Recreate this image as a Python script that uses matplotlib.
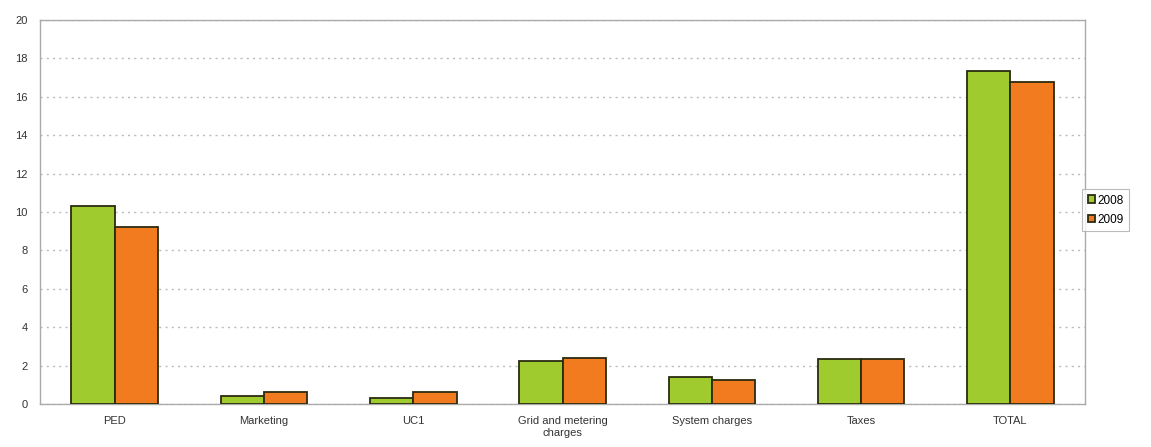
import matplotlib
matplotlib.use("Agg")
import matplotlib.pyplot as plt
import numpy as np

categories = ["PED", "Marketing", "UC1", "Grid and metering\ncharges",
              "System charges", "Taxes", "TOTAL"]
series_names = ["2008", "2009"]
values_2008 = [10.31, 0.43, 0.33, 2.24, 1.39, 2.33, 17.36]
values_2009 = [9.22, 0.64, 0.64, 2.38, 1.25, 2.32, 16.75]
yticks = [0, 2, 4, 6, 8, 10, 12, 14, 16, 18, 20]

plt.rcParams['font.family'] = ['Liberation Sans', 'DejaVu Sans']

fig = plt.figure(figsize=(11.51, 4.47), dpi=100)
ax = fig.add_axes([0.0348, 0.0962, 0.9079, 0.8591])

x = np.arange(len(categories))
w = 0.29
ax.bar(x - w/2, values_2008, w, color="#9FCB2E", edgecolor="#2b2b10",
       linewidth=1.3, label=series_names[0], zorder=3)
ax.bar(x + w/2, values_2009, w, color="#F27A1F", edgecolor="#2b2b10",
       linewidth=1.3, label=series_names[1], zorder=3)

ax.set_xlim(-0.5, len(categories) - 0.5)
ax.set_ylim(0, 20)
ax.set_yticks(yticks)
ax.set_yticklabels([str(t) for t in yticks], fontsize=8, color="#333333")
ax.set_xticks(x)
ax.set_xticklabels(categories, fontsize=8, color="#333333", linespacing=1.15)
ax.tick_params(axis='both', length=0)
ax.tick_params(axis='x', pad=9)
ax.tick_params(axis='y', pad=9)

ax.yaxis.grid(True, linestyle=(0, (1.5, 3)), color="#bbbbbb", linewidth=1.0, zorder=0)
for s in ax.spines.values():
    s.set_color("#aaaaaa")
    s.set_linewidth(1.0)

leg = ax.legend(loc="center left", bbox_to_anchor=(0.9975, 0.505), fontsize=8.5,
                frameon=True, fancybox=False, edgecolor="#aaaaaa",
                handlelength=0.65, handleheight=0.65, handletextpad=0.2,
                borderpad=0.45, labelspacing=0.6, borderaxespad=0.0)
leg.get_frame().set_linewidth(0.8)

fig.savefig("out.png", dpi=100)
